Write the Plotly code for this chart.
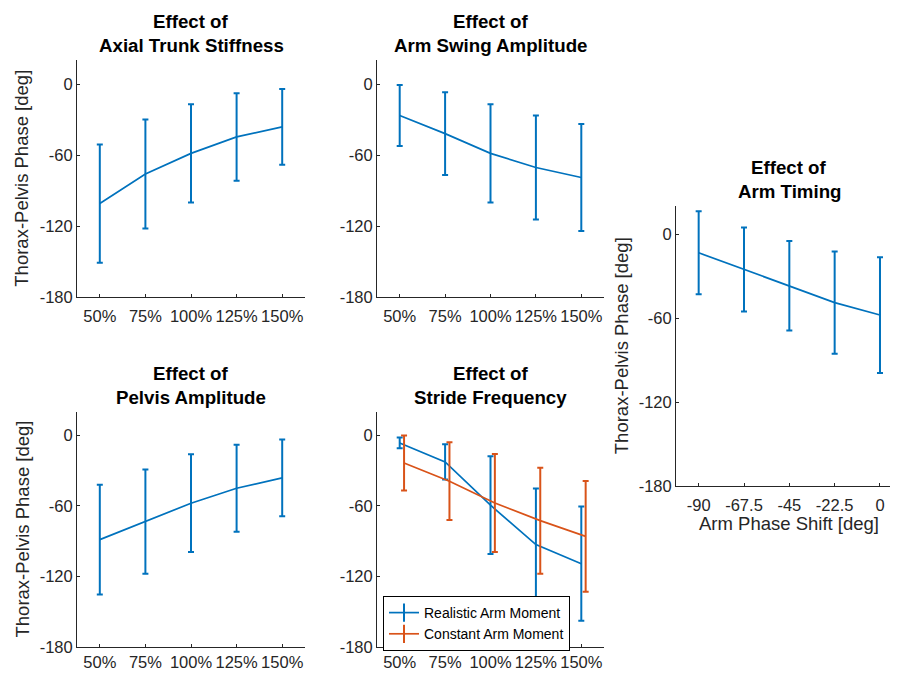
import plotly.graph_objects as go

# The page adds an 8 px body margin, so the figure is drawn 8 px in from the
# window's top-left corner; all pixel positions below are window positions.
OFF = 8
W, H = 898 - OFF, 673 - OFF

# ---------------- data ----------------
pct_x = [50, 75, 100, 125, 150]
pct_labels = ["50%", "75%", "100%", "125%", "150%"]
timing_x = [-90, -67.5, -45, -22.5, 0]
timing_labels = ["-90", "-67.5", "-45", "-22.5", "0"]
y_ticks = [-180, -120, -60, 0]
y_tick_labels = ["-180", "-120", "-60", "0"]

stiff_mean = [-101, -76, -58.6, -44.7, -36.2]
stiff_err = [50, 46, 41.5, 37, 32]
swing_mean = [-26.6, -41.9, -58.6, -70.5, -79]
swing_err = [25.7, 35, 41.5, 44, 45.3]
pelvis_mean = [-88.6, -73.3, -57.7, -45, -36.2]
pelvis_err = [46.5, 44.3, 41.5, 37, 32.5]
stride_real_mean = [-6.5, -22.6, -59.4, -92.8, -109]
stride_real_err = [4.5, 15, 41.5, 47.5, 48.5]
stride_const_mean = [-23.5, -39, -57.5, -72.5, -85.8]
stride_const_err = [23.4, 33, 41.5, 45, 47]
timing_mean = [-13.2, -25.1, -36.8, -48.8, -57.7]
timing_err = [29.7, 30, 32, 36.6, 41.4]

const_offset = 2.4  # horizontal dodge of the constant-moment series (in % units)

BLUE = "#0072BD"
ORANGE = "#D95319"
AX = "#262626"
FONT = "Liberation Sans, Arial, Helvetica, sans-serif"

# axes boxes in window pixels: (left, right, top, bottom)
boxes = {
    1: (77, 305, 60.4, 297),
    2: (377, 604, 60.4, 297),
    3: (77, 305, 411.7, 647.3),
    4: (377, 604, 411.7, 647.3),
    5: (676, 898, 206.4, 486),
}

def xd(px):
    return (px - OFF) / W

def yd(py):
    return 1 - (py - OFF) / H

fig = go.Figure()

def add_series(ax, x, y, err, color, show=False, name=None):
    fig.add_trace(go.Scatter(
        x=x, y=y, mode="lines", name=name, showlegend=show,
        line=dict(color=color, width=1.7),
        error_y=dict(type="data", array=err, visible=True, color=color,
                     thickness=2, width=3),
        xaxis=f"x{ax}" if ax > 1 else "x", yaxis=f"y{ax}" if ax > 1 else "y",
        hoverinfo="skip",
    ))

add_series(1, pct_x, stiff_mean, stiff_err, BLUE)
add_series(2, pct_x, swing_mean, swing_err, BLUE)
add_series(3, pct_x, pelvis_mean, pelvis_err, BLUE)
add_series(4, pct_x, stride_real_mean, stride_real_err, BLUE)
add_series(4, [v + const_offset for v in pct_x], stride_const_mean, stride_const_err, ORANGE)
add_series(5, timing_x, timing_mean, timing_err, BLUE)

# legend entries (symbol imitating an error bar)
for nm, c in [("Realistic Arm Moment", BLUE), ("Constant Arm Moment", ORANGE)]:
    fig.add_trace(go.Scatter(
        x=[None], y=[None], mode="lines+markers", name=nm,
        line=dict(color=c, width=1.7),
        marker=dict(symbol="line-ns", size=13, color=c, line=dict(color=c, width=2)),
        xaxis="x4", yaxis="y4", showlegend=True,
    ))

layout = dict(
    width=W, height=H,
    margin=dict(l=0, r=0, t=0, b=0, pad=0, autoexpand=False),
    paper_bgcolor="white", plot_bgcolor="white",
    font=dict(family=FONT, color=AX, size=16.5),
    showlegend=True,
    legend=dict(
        x=xd(383), y=yd(596), xanchor="left", yanchor="top",
        bgcolor="white", bordercolor="#000000", borderwidth=1,
        font=dict(size=14, color="#000000", family=FONT),
        itemwidth=30, tracegroupgap=0,
    ),
)

for ax, (l, r, t, b) in boxes.items():
    xk = "xaxis" if ax == 1 else f"xaxis{ax}"
    yk = "yaxis" if ax == 1 else f"yaxis{ax}"
    if ax == 5:
        xr = [-101.25, 0 + (898 - 880) / (45.3 / 22.5)]
        tv, tt = timing_x, timing_labels
    else:
        xr = [37.5, 162.5]
        tv, tt = pct_x, pct_labels
    standoff = 0 if ax in (3, 4) else 4
    layout[xk] = dict(
        domain=[xd(l), min(1.0, xd(r))], range=xr, tickvals=tv, ticktext=tt,
        showline=True, linecolor=AX, linewidth=1, mirror=False,
        ticks="inside", ticklen=3, tickcolor=AX, showgrid=False, zeroline=False,
        tickfont=dict(size=16.5, color=AX), anchor=f"y{ax}" if ax > 1 else "y",
        fixedrange=True, automargin=False, ticklabelstandoff=standoff,
    )
    layout[yk] = dict(
        domain=[yd(b), yd(t)], range=[-180, 20], tickvals=y_ticks, ticktext=y_tick_labels,
        showline=True, linecolor=AX, linewidth=1, mirror=False,
        ticks="inside", ticklen=3, tickcolor=AX, showgrid=False, zeroline=False,
        tickfont=dict(size=16.5, color=AX), anchor=f"x{ax}" if ax > 1 else "x",
        fixedrange=True, automargin=False,
    )

fig.update_layout(**layout)

titles = {
    1: "Axial Trunk Stiffness",
    2: "Arm Swing Amplitude",
    3: "Pelvis Amplitude",
    4: "Stride Frequency",
    5: "Arm Timing",
}
ann = []
for ax, sub in titles.items():
    l, r, t, b = boxes[ax]
    cx = (l + r) / 2 if ax != 5 else 789
    ann.append(dict(text="<b>Effect of</b>", x=xd(cx), y=yd(t - 38.5), xref="paper", yref="paper",
                    showarrow=False, xanchor="center", yanchor="middle",
                    font=dict(size=18.7, color="#000000", family=FONT)))
    ann.append(dict(text=f"<b>{sub}</b>", x=xd(cx), y=yd(t - 14.5), xref="paper", yref="paper",
                    showarrow=False, xanchor="center", yanchor="middle",
                    font=dict(size=18.7, color="#000000", family=FONT)))

for ax in (1, 3, 5):
    l, r, t, b = boxes[ax]
    ann.append(dict(text="Thorax-Pelvis Phase [deg]", x=xd(l - 55), y=yd((t + b) / 2),
                    xref="paper", yref="paper", showarrow=False, textangle=-90,
                    xanchor="center", yanchor="middle",
                    font=dict(size=18.5, color=AX, family=FONT)))

ann.append(dict(text="Arm Phase Shift [deg]", x=xd(789), y=yd(523.5), xref="paper", yref="paper",
                showarrow=False, xanchor="center", yanchor="middle",
                font=dict(size=18.5, color=AX, family=FONT)))

fig.update_layout(annotations=ann)
fig.write_html("out.html")
